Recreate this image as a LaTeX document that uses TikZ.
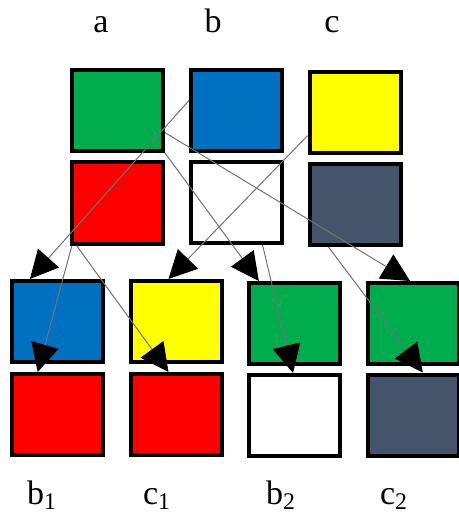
\documentclass[tikz,border=0pt]{standalone}
\usepackage{fontspec}
\setmainfont{Liberation Serif}
\usetikzlibrary{arrows.meta}
\definecolor{cgreen}{RGB}{0,172,78}
\definecolor{cblue}{RGB}{0,112,192}
\definecolor{cyellow}{RGB}{255,255,0}
\definecolor{cred}{RGB}{255,0,0}
\definecolor{cslate}{RGB}{68,84,106}

\tikzset{
  sq/.style={draw=black, line width=2pt, minimum width=45.5pt, minimum height=40.5pt, inner sep=0pt},
  lab/.style={font=\fontsize{17}{20}\selectfont, inner sep=0pt, anchor=base},
  con/.style={draw=black!55, line width=0.5pt, -{Triangle[length=14pt, width=14pt, color=black]}}
}

\begin{document}
\begin{tikzpicture}[x=0.5pt, y=-0.5pt]
\useasboundingbox (0,0) rectangle (459,518);

\node (labA) at (101,33) [lab] {a};
\node (labB) at (213,33) [lab] {b};
\node (labC) at (332,33) [lab] {c};

\node (Ta) at (117.5,110.5) [sq, fill=cgreen] {};
\node (Tb) at (236.5,110.5) [sq, fill=cblue] {};
\node (Tc) at (355,112.5) [sq, fill=cyellow] {};
\node (Sa) at (117.5,203) [sq, fill=cred] {};
\node (Sb) at (236,202.5) [sq, fill=white] {};
\node (Sc) at (355,204.5) [sq, fill=cslate] {};

\node (Ub1) at (57.5,321.5) [sq, fill=cblue] {};
\node (Uc1) at (176,321.5) [sq, fill=cyellow] {};
\node (Ub2) at (294.5,323.5) [sq, fill=cgreen] {};
\node (Uc2) at (413,323.5) [sq, fill=cgreen] {};
\node (Lb1) at (57.5,414.5) [sq, fill=cred] {};
\node (Lc1) at (176,414.5) [sq, fill=cred] {};
\node (Lb2) at (294.5,415.5) [sq, fill=white] {};
\node (Lc2) at (413,415) [sq, fill=cslate] {};

\node (labB1) at (42,504) [lab] {b\textsubscript{1}};
\node (labC1) at (157,504) [lab] {c\textsubscript{1}};
\node (labB2) at (281,504) [lab] {b\textsubscript{2}};
\node (labC2) at (394,504) [lab] {c\textsubscript{2}};

\draw [con] (Tb.168) -- (Ub1.123);
\draw [con] (Tc.206) -- (Uc1.100);
\draw [con] (Ta.south east) -- (Ub2.130);
\draw [con] (Ta.335) -- (Uc2.94);
\draw [con] (Sa.223) -- (Lb1.115);
\draw [con] (Sa.226) -- (Lc1.100);
\draw [con] (Sb.302) -- (Lb2.92);
\draw [con] (Sc.238) -- (Lc2.77);

\end{tikzpicture}
\end{document}
